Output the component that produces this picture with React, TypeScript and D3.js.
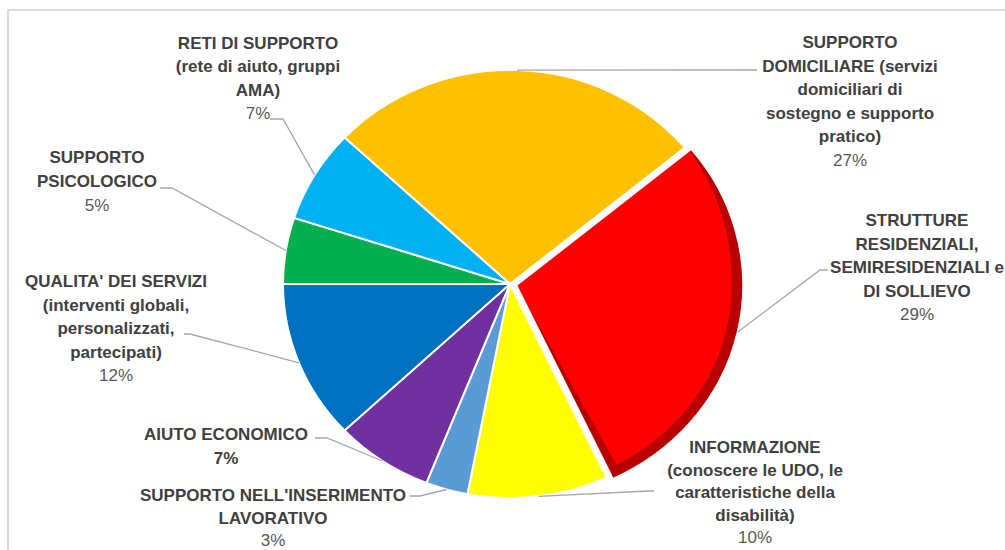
import React from "react";
import * as d3 from "d3";

// ---- data ----
const categories = [
  "Supporto domiciliare",
  "Strutture residenziali, semiresidenziali e di sollievo",
  "Informazione",
  "Supporto nell'inserimento lavorativo",
  "Aiuto economico",
  "Qualità dei servizi",
  "Supporto psicologico",
  "Reti di supporto",
];
const values = [27, 29, 10, 3, 7, 12, 5, 7];
const labelLines = [
  ["SUPPORTO", "DOMICILIARE (servizi", "domiciliari di", "sostegno e supporto", "pratico)"],
  ["STRUTTURE", "RESIDENZIALI,", "SEMIRESIDENZIALI e", "DI SOLLIEVO"],
  ["INFORMAZIONE", "(conoscere le UDO, le", "caratteristiche della", "disabilità)"],
  ["SUPPORTO NELL'INSERIMENTO", "LAVORATIVO"],
  ["AIUTO ECONOMICO"],
  ["QUALITA' DEI SERVIZI", "(interventi globali,", "personalizzati,", "partecipati)"],
  ["SUPPORTO", "PSICOLOGICO"],
  ["RETI DI SUPPORTO", "(rete di aiuto, gruppi", "AMA)"],
];
const colors = ["#FFC000", "#FF0000", "#FFFF00", "#5B9BD5", "#7030A0", "#0070C0", "#00B050", "#00B0F0"];
const pctBold = [false, false, false, false, true, false, false, false];

// ---- layout ----
const W = 1005, H = 550;
const cx = 510, cy = 284, r = 214, sx = 227 / 214;
const explodeIndex = 1, explode = 6;
const labelLayout = [
  { x: 850, y: 42, lh: 23.5, elbow: [752, 70], end: [757, 70] },
  { x: 917, y: 220, lh: 23.5, elbow: [820, 270], end: [828, 270] },
  { x: 755, y: 447, lh: 22.5, elbow: [648, 491], end: [654, 491] },
  { x: 273, y: 495, lh: 22.5, elbow: [420, 496], end: [410, 496] },
  { x: 226, y: 434, lh: 23.5, elbow: [327, 438], end: [315, 438] },
  { x: 116, y: 281, lh: 23.5, elbow: [190, 334], end: [184, 334] },
  { x: 97, y: 157, lh: 24, elbow: [172, 188], end: [160, 188] },
  { x: 258, y: 43, lh: 23.3, elbow: [283, 119], end: [270, 119] },
];

const startDeg = 270 - (d3.sum(values.slice(0, 6)) / d3.sum(values)) * 360;

export default function App() {
  const pie = d3
    .pie<number>()
    .sort(null)
    .value((d) => d)
    .startAngle((startDeg * Math.PI) / 180)
    .endAngle((startDeg * Math.PI) / 180 + 2 * Math.PI);
  const arcs = pie(values);
  const arc = d3.arc<d3.PieArcDatum<number>>().innerRadius(0).outerRadius(r);

  const font = "Liberation Sans, Arial, sans-serif";

  const offsetOf = (i: number) => {
    if (i !== explodeIndex) return [0, 0];
    const m = (arcs[i].startAngle + arcs[i].endAngle) / 2;
    return [explode * Math.sin(m), -explode * Math.cos(m)];
  };

  // bevel fill for the exploded slice
  const ex = arcs[explodeIndex];
  const delta = 0.045;
  const rimPts: [number, number][] = d3.range(0, 1.0001, 0.02).map((t) => {
    const a = ex.startAngle + t * (ex.endAngle - delta - ex.startAngle);
    const rim = 2.5 + 8.5 * Math.sin(Math.min(t / 0.45, 1) * (Math.PI / 2));
    return [a, r - rim];
  });
  const radial = d3
    .lineRadial<[number, number]>()
    .angle((d) => d[0])
    .radius((d) => d[1]);
  const bevelPath = "M0,0L" + (radial(rimPts) as string).slice(1) + "Z";

  return (
    <svg
      width={W}
      height={H}
      style={{ position: "absolute", left: 0, top: 0, background: "#fff" }}
    >
      <rect x={8} y={10} width={1100} height={700} fill="#fff" stroke="#d9d9d9" strokeWidth={2} />
      <g transform={`translate(${cx},${cy}) scale(${sx},1)`}>
        {arcs.map((a, i) => {
          const [ox, oy] = offsetOf(i);
          if (i === explodeIndex) {
            return (
              <g key={i} transform={`translate(${ox},${oy})`}>
                <path d={arc(a) as string} fill="#B80000" />
                <path d={bevelPath} fill={colors[i]} />
                <path
                  d={arc(a) as string}
                  fill="none"
                  stroke="#fff"
                  strokeWidth={2}
                  vectorEffect="non-scaling-stroke"
                />
              </g>
            );
          }
          return (
            <path
              key={i}
              d={arc(a) as string}
              fill={colors[i]}
              stroke="#fff"
              strokeWidth={2}
              vectorEffect="non-scaling-stroke"
            />
          );
        })}
      </g>
      {arcs.map((a, i) => {
        const m = (a.startAngle + a.endAngle) / 2;
        const [ox, oy] = offsetOf(i);
        const px = cx + sx * (r * Math.sin(m) + ox);
        const py = cy - r * Math.cos(m) + oy;
        const L = labelLayout[i];
        return (
          <polyline
            key={"l" + i}
            points={`${px},${py} ${L.elbow[0]},${L.elbow[1]} ${L.end[0]},${L.end[1]}`}
            fill="none"
            stroke="#A6A6A6"
            strokeWidth={1.3}
          />
        );
      })}
      {labelLines.map((lines, i) => {
        const L = labelLayout[i];
        return (
          <text key={"t" + i} fontFamily={font} fontSize={17} textAnchor="middle" dominantBaseline="central">
            {lines.map((s, j) => (
              <tspan key={j} x={L.x} y={L.y + j * L.lh} fill="#404040" fontWeight="bold">
                {s}
              </tspan>
            ))}
            <tspan
              x={L.x}
              y={L.y + lines.length * L.lh}
              fill={pctBold[i] ? "#404040" : "#595959"}
              fontWeight={pctBold[i] ? "bold" : "normal"}
            >
              {d3.format(".0%")(values[i] / d3.sum(values))}
            </tspan>
          </text>
        );
      })}
    </svg>
  );
}
